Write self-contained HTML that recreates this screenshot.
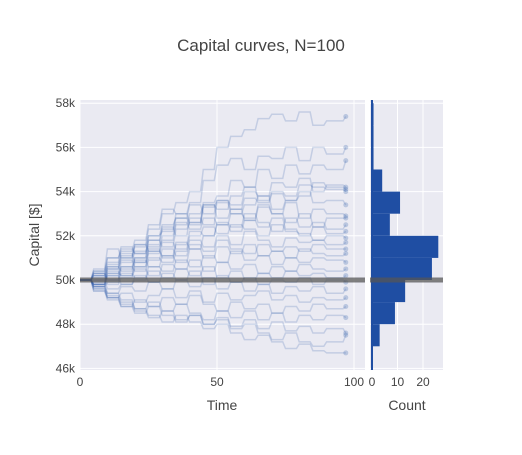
<!DOCTYPE html>
<html><head><meta charset="utf-8"><style>
body{margin:0;background:#fff;font-family:"Liberation Sans",sans-serif}
svg text{font-family:"Liberation Sans",sans-serif;fill:#444}
</style></head><body>
<svg id="c" width="522" height="450">
<rect width="522" height="450" fill="#fff"/>
<text x="261" y="51" text-anchor="middle" font-size="17">Capital curves, N=100</text>
<rect x="80" y="100" width="285" height="270" fill="#eaeaf2"/>
<rect x="370" y="100" width="73" height="270" fill="#eaeaf2"/>
<g id="grid"></g><g id="curves"></g><g id="hist"></g><g id="axes"></g>
<text x="222" y="410" text-anchor="middle" font-size="14">Time</text>
<text x="407" y="410" text-anchor="middle" font-size="14">Count</text>
<text transform="translate(39,235) rotate(-90)" text-anchor="middle" font-size="14">Capital [$]</text>
</svg>
<script>
const times=[0,5,10,15,20,25,30,35,40,45,50,55,60,65,70,75,80,85,90,97];
const curves=[
[50,50.5,51.4,51,51.6,52.3,53,53.5,54,55,56,56.5,56.8,57.3,57.5,57.2,57.6,57,57.2,57.4],
[50,50.3,51,51.3,51.8,52.5,53.2,53,53.5,54.5,55.2,55.5,55,55.6,55.5,56,55.4,56,55.7,56],
[50,49.8,50.5,51,51.5,52,52.2,53,52.6,53.5,53.8,54.5,54.2,55,54.6,55.2,54.8,55.2,55,55.4],
[50,50.4,50.8,51.4,51.2,52,52.5,52.8,53.4,53,53.6,53.4,54,53.8,54.4,54.2,54.6,54,54.3,54.2],
[50,50.2,50.6,50.4,51,51.5,51.8,52.5,53,53.4,53.2,53.8,54.2,53.6,54,53.8,54.3,54.2,54.1,54],
[50,49.7,50.2,50.8,51.3,51.6,52.4,52,52.8,52.5,53.5,53,53.4,53.8,53.2,53.6,54,53.5,53.6,53.4],
[50,50.3,50,50.6,51,51.8,51.5,52.3,52.6,53.4,52.8,53.2,52.7,53.3,53,53.5,52.8,53.2,53,52.9],
[50,49.8,50.3,50.2,50.8,51.4,51,51.6,52.2,52,52.6,52.4,53,52.6,52.2,52.8,52.4,52.6,52.3,52.5],
[50,50.2,50.7,51.2,50.8,51.2,51.7,51.4,52,52.4,52.1,52.5,52.3,52,52.5,52.2,52.1,51.8,52,51.9],
[50,50,50.4,50.2,50.6,51,50.8,51.3,51.8,51.5,52,51.6,52.2,51.8,51.5,51.9,51.7,51.8,51.6,51.7],
[50,49.8,50.3,50.6,50.4,50.9,51.4,51.1,51.6,51.3,51.8,51.4,51.2,51.6,51.3,51.5,51.3,51.6,51.4,51.4],
[50,50.3,50,50.5,50.9,50.6,51.1,50.8,51.4,51,51.5,51.2,51.6,51.1,51.3,51,51.4,51.2,51.1,51.2],
[50,49.7,49.9,50.3,50.1,50.6,50.4,50.9,50.6,51.1,50.8,51.3,50.9,51.1,50.7,51,50.8,51,50.9,50.8],
[50,50.2,49.8,50.1,50.5,50.2,50.7,50.5,50.9,50.4,50.8,50.5,50.7,50.3,50.6,50.4,50.7,50.5,50.4,50.5],
[50,49.8,50.2,49.8,50,50.4,50.1,50.5,50.2,50.6,50.1,50.4,50,50.3,50.1,50.4,50.2,50.3,50.1,50.2],
[50,50,49.6,49.8,50.2,49.9,50.3,50,50.4,49.8,50.2,49.9,50.1,49.8,50,49.9,50.1,49.8,50,49.9],
[50,49.7,49.4,49.7,49.5,49.9,49.6,50,49.7,50.1,49.6,49.9,49.5,49.8,49.4,49.7,49.5,49.7,49.4,49.6],
[50,49.6,49.2,49.4,49,49.3,49.6,49.2,49.5,49,49.4,49.1,49.3,49.5,49.1,49.3,49,49.2,49.1,49.2],
[50,49.5,49.1,48.8,49.1,48.8,49.2,48.9,49.3,48.9,48.6,49,48.7,48.9,48.5,48.8,48.6,48.9,48.7,48.8],
[50,49.7,49.3,49,48.7,49,48.6,48.9,48.5,48.2,48.6,48.3,48.6,48.2,48.5,48.1,48.4,48.2,48.4,48.3],
[50,49.5,49.2,48.9,48.6,48.3,48.6,48.2,48.4,48,48.3,47.9,48.2,47.8,48.1,47.7,47.9,47.6,47.8,47.6],
[50,49.6,49.2,48.8,48.5,48.8,48.4,48.1,48.4,48,48.2,47.8,48,47.6,47.3,47.6,47.2,47,47.2,47.5],
[50,49.8,49.4,49.1,48.7,48.4,48.1,48.4,48.1,47.8,48,47.6,47.3,47.5,47.2,46.9,47.1,46.8,46.7,46.7],
[50,50.4,51,51.5,51.2,51.8,52.3,52.8,52.5,53.3,53.6,53.2,53.7,53.5,53.9,53.6,53.8,54.4,54.2,54.1],
[50,50.1,50.6,51.1,51.6,51.3,52,52.6,52.3,52.8,52.5,53,52.8,53.4,53,52.6,53,52.4,52.8,52.8],
[50,49.9,50.5,50.9,50.6,51.3,51.1,51.7,51.4,52,52.5,52.2,52.7,52.4,52.8,52.3,52,52.4,52.1,52.2]
];
const histBins=[47,48,49,50,51,52,53,54,55,56,57];
const histCounts=[3,9,13,23.5,26,7,11,4,0.6,0.6,0.6];
const yTicks=[46,48,50,52,54,56,58];
const xTicks=[0,50,100];
const cTicks=[0,10,20];
const NS="http://www.w3.org/2000/svg";
const X=t=>80+t*2.74, Y=v=>280-(v-50)*22.1, C=c=>372+c*2.55;
function mk(tag,attrs,parent){const e=document.createElementNS(NS,tag);for(const k in attrs)e.setAttribute(k,attrs[k]);document.getElementById(parent).appendChild(e);return e;}
yTicks.forEach(v=>{
 let g=mk('line',{x1:80,x2:365,y1:Y(v),y2:Y(v),stroke:'#fff','stroke-width':1},'grid');
 
 
 let g2=mk('line',{x1:370,x2:443,y1:Y(v),y2:Y(v),stroke:'#fff','stroke-width':1},'grid');
 
 
 let t=mk('text',{x:75,y:Y(v)+4,'text-anchor':'end','font-size':12},'axes');t.textContent=v+'k';
 
 
});
xTicks.forEach(v=>{
 let g=mk('line',{x1:X(v),x2:X(v),y1:100,y2:370,stroke:'#fff','stroke-width':1},'grid');
 
 
 let t=mk('text',{x:X(v),y:386,'text-anchor':'middle','font-size':12},'axes');t.textContent=v;
 
 
});
cTicks.forEach(v=>{
 let g=mk('line',{x1:C(v),x2:C(v),y1:100,y2:370,stroke:'#fff','stroke-width':1},'grid');
 
 
 let t=mk('text',{x:C(v),y:386,'text-anchor':'middle','font-size':12},'axes');t.textContent=v;
 
 
});
curves.forEach((c,k)=>{
 let d='';c.forEach((v,i)=>{d+=(i?'L':'M')+X(times[i])+','+Y(v)+(i<c.length-1?'H'+X(times[i+1]-1):'');});
 let p=mk('path',{d:d,fill:'none',stroke:'#2c5aa8','stroke-width':1.5,'stroke-opacity':0.2},'curves');
 
 
 let m=mk('circle',{cx:X(times[times.length-1]),cy:Y(c[c.length-1]),r:2.5,fill:'#2c5aa8','fill-opacity':0.25},'curves');
 
 
});
let base=mk('line',{x1:80,x2:365,y1:Y(50),y2:Y(50),stroke:'#555','stroke-width':5,'stroke-opacity':0.75},'curves');


histBins.forEach((b,i)=>{
 let r=mk('rect',{x:C(0),y:Y(b+1),width:histCounts[i]*2.55,height:Y(b)-Y(b+1),fill:'#1f4ea3'},'hist');
 
 
});
let zl=mk('line',{x1:C(0),x2:C(0),y1:100,y2:370,stroke:'#1f4ea3','stroke-width':2},'hist');


let hb=mk('line',{x1:370,x2:443,y1:Y(50),y2:Y(50),stroke:'#555','stroke-width':5,'stroke-opacity':0.75},'hist');


</script>
</body></html>
